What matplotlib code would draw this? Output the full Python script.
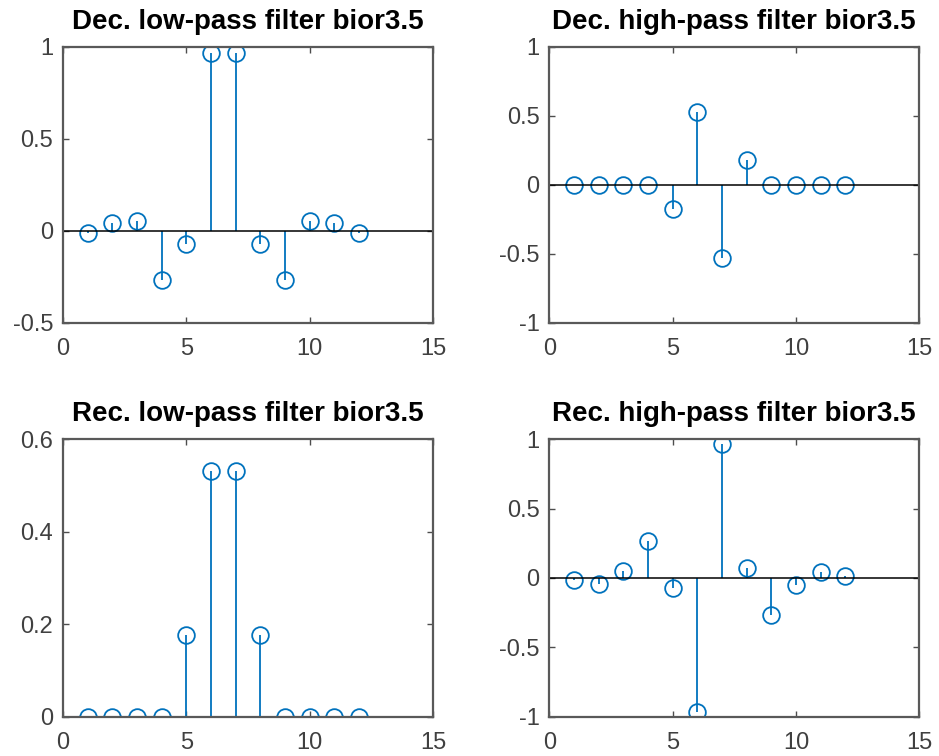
import matplotlib.pyplot as plt

# coeficientes de los filtros bior3.5
n = list(range(1, 13))
dec_lo = [-0.0138, 0.0414, 0.0525, -0.2679, -0.0718, 0.9667,
          0.9667, -0.0718, -0.2679, 0.0525, 0.0414, -0.0138]
dec_hi = [0, 0, 0, 0, -0.1768, 0.5303, -0.5303, 0.1768, 0, 0, 0, 0]
rec_lo = [0, 0, 0, 0, 0.1768, 0.5303, 0.5303, 0.1768, 0, 0, 0, 0]
rec_hi = [-0.0138, -0.0414, 0.0525, 0.2679, -0.0718, -0.9667,
          0.9667, 0.0718, -0.2679, -0.0525, 0.0414, 0.0138]

titulos = ['Dec. low-pass filter bior3.5', 'Dec. high-pass filter bior3.5',
           'Rec. low-pass filter bior3.5', 'Rec. high-pass filter bior3.5']
series = [dec_lo, dec_hi, rec_lo, rec_hi]
ylims = [(-0.5, 1), (-1, 1), (0, 0.6), (-1, 1)]
yticks = [[-0.5, 0, 0.5, 1], [-1, -0.5, 0, 0.5, 1],
          [0, 0.2, 0.4, 0.6], [-1, -0.5, 0, 0.5, 1]]

plt.rcParams['font.family'] = ['Liberation Sans', 'DejaVu Sans']
azul = '#0072BD'

fig = plt.figure(figsize=(9.39, 7.56), dpi=100)
posiciones = [[0.067, 0.573, 0.394, 0.365], [0.585, 0.573, 0.394, 0.365],
              [0.067, 0.052, 0.394, 0.367], [0.585, 0.052, 0.394, 0.367]]

for i in range(4):
    ax = fig.add_axes(posiciones[i])
    ml, sl, bl = ax.stem(n, series[i], linefmt='-', markerfmt='o', basefmt='k-')
    plt.setp(sl, color=azul, linewidth=1.3)
    plt.setp(ml, markerfacecolor='none', markeredgecolor=azul,
             markersize=12, markeredgewidth=1.3)
    plt.setp(bl, color='black', linewidth=1.1)
    bl.set_xdata([0, 15])
    ax.set_xlim(0, 15)
    ax.set_ylim(*ylims[i])
    ax.set_xticks([0, 5, 10, 15])
    ax.set_yticks(yticks[i])
    ax.set_yticklabels([('%g' % v) for v in yticks[i]])
    ax.tick_params(direction='in', top=True, right=True, length=4,
                   labelsize=17, colors='0.3', labelcolor='0.25', width=1)
    ax.tick_params(axis='x', pad=11)
    ax.tick_params(axis='y', pad=7)
    for s in ax.spines.values():
        s.set_color('0.35')
        s.set_linewidth(1.6)
    ax.set_title(titulos[i], fontsize=20, fontweight='bold', pad=13)

plt.savefig('out.png')
plt.close()
